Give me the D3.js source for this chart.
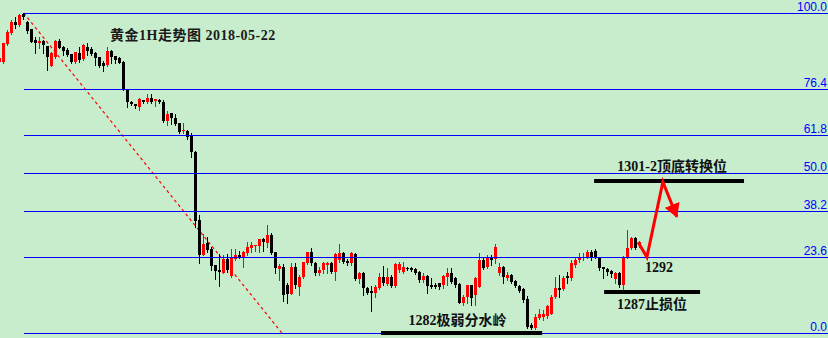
<!DOCTYPE html>
<html>
<head>
<meta charset="utf-8">
<title>黄金1H走势图</title>
<script src="https://d3js.org/d3.v7.min.js"></script>
<style>
  body { margin: 0; background: #c7edcc; }
  svg { display: block; }
  .lvl { font: 12px "Liberation Sans", Arial, sans-serif; fill: #0000ff; }
  .note { font: bold 14px "Liberation Serif", "Noto Sans CJK SC", serif; fill: #111; }
  .title { letter-spacing: 0.5px; fill: #1a1a1a; }
</style>
</head>
<body>
<div id="chart"></div>
<script>

// gold 1H candles (price units)
var opens = [1318.4,1318.4,1320.8,1322.3,1323.8,1323.4,1324.9,1323.8,1322.9,1321.4,
  1321.0,1321.2,1320.6,1317.9,1319.1,1321.2,1320.4,1320.0,1319.5,1318.4,
  1319.6,1318.8,1320.4,1320.2,1319.6,1319.1,1318.3,1318.0,1319.9,1319.2,
  1319.0,1318.4,1314.8,1313.0,1312.8,1312.4,1313.3,1313.0,1313.6,1313.2,
  1313.3,1313.0,1310.5,1311.6,1310.9,1310.2,1309.1,1309.1,1308.6,1306.3,
  1297.2,1292.5,1294.1,1293.3,1291.1,1290.5,1290.1,1291.9,1289.7,1291.9,
  1292.5,1292.2,1292.8,1293.4,1293.7,1293.7,1294.6,1294.1,1295.2,1292.9,
  1290.6,1290.9,1288.5,1287.2,1290.9,1288.2,1289.5,1291.4,1292.9,1291.4,
  1290.1,1290.5,1291.1,1291.4,1290.2,1291.8,1292.8,1291.7,1291.4,1292.6,
  1289.3,1290.1,1288.0,1287.6,1287.4,1288.0,1289.5,1288.6,1289.5,1288.3,
  1290.5,1290.2,1290.7,1290.7,1290.6,1290.2,1289.1,1289.7,1288.5,1288.5,
  1288.7,1288.5,1289.5,1290.1,1289.4,1288.6,1286.0,1286.8,1288.5,1287.1,
  1288.2,1291.8,1290.9,1292.2,1291.9,1290.1,1290.9,1289.4,1289.8,1289.0,
  1288.3,1287.9,1286.6,1283.1,1282.7,1284.0,1284.2,1284.3,1284.6,1286.8,
  1288.0,1287.9,1289.7,1289.4,1291.1,1291.8,1292.1,1292.2,1292.9,1293.0,
  1292.1,1290.9,1290.6,1290.3,1289.3,1290.1,1288.5,1292.1,1293.4,1294.8,
  1293.8];
var highs = [1319.2,1321.0,1322.7,1324.1,1324.5,1324.9,1325.0,1323.9,1322.9,1321.8,
  1321.8,1321.4,1320.6,1319.8,1321.4,1321.5,1320.6,1320.3,1319.5,1319.8,
  1320.4,1320.8,1321.0,1320.4,1319.8,1319.1,1318.6,1320.4,1320.0,1319.2,
  1319.1,1318.6,1314.8,1313.2,1312.8,1313.6,1313.3,1314.1,1314.1,1313.4,
  1313.4,1313.3,1311.8,1311.6,1311.4,1310.2,1310.2,1309.3,1308.9,1306.5,
  1297.9,1295.3,1294.9,1293.6,1291.1,1292.6,1292.5,1292.6,1293.3,1293.3,
  1293.0,1293.0,1294.2,1294.2,1293.8,1294.6,1294.8,1296.5,1295.4,1292.9,
  1291.3,1291.3,1288.7,1291.4,1291.4,1289.8,1291.5,1292.9,1293.4,1291.5,
  1290.9,1291.5,1291.5,1291.5,1292.8,1294.0,1292.9,1291.9,1292.9,1292.8,
  1290.2,1290.2,1288.2,1288.3,1288.5,1290.1,1291.0,1290.7,1289.8,1291.4,
  1291.5,1291.5,1290.9,1290.9,1290.7,1290.3,1290.1,1289.8,1289.4,1288.7,
  1288.7,1289.8,1290.7,1290.7,1289.5,1288.7,1287.1,1288.5,1288.5,1289.5,
  1292.8,1292.1,1292.5,1292.5,1294.0,1291.4,1291.0,1290.2,1289.9,1289.1,
  1288.5,1288.0,1287.0,1283.3,1284.6,1285.2,1285.1,1285.8,1287.1,1289.5,
  1289.8,1289.7,1290.2,1291.8,1292.2,1292.8,1292.8,1293.2,1293.2,1293.3,
  1292.2,1290.9,1290.7,1290.5,1290.2,1290.2,1292.3,1295.8,1294.9,1294.9,
  1294.4];
var lows = [1318.1,1318.3,1320.7,1322.2,1323.0,1323.3,1324.2,1322.3,1321.1,1319.6,
  1320.3,1319.6,1317.3,1317.9,1319.0,1320.3,1319.4,1319.2,1318.3,1318.3,
  1318.4,1318.7,1319.4,1319.4,1318.0,1317.7,1317.2,1317.9,1318.3,1318.3,
  1318.3,1314.7,1312.4,1312.6,1312.2,1312.0,1312.9,1312.9,1312.9,1312.5,
  1312.9,1310.4,1310.0,1310.1,1310.0,1308.9,1308.9,1308.1,1305.7,1296.2,
  1291.4,1292.5,1292.9,1290.5,1289.3,1288.3,1290.1,1290.2,1289.5,1291.8,
  1292.1,1290.9,1292.5,1292.9,1293.0,1292.9,1293.0,1293.6,1292.6,1290.1,
  1289.1,1286.3,1286.0,1287.2,1288.0,1287.1,1289.4,1291.3,1291.1,1289.8,
  1289.8,1290.1,1290.1,1290.1,1289.1,1291.5,1291.4,1291.1,1291.1,1289.1,
  1288.7,1287.1,1287.2,1285.0,1286.8,1287.9,1288.5,1288.5,1288.2,1288.2,
  1290.2,1290.1,1290.5,1290.3,1289.9,1288.9,1288.9,1287.4,1288.0,1288.0,
  1287.9,1288.0,1288.5,1288.7,1288.2,1286.0,1285.8,1286.0,1285.8,1285.8,
  1288.2,1290.6,1290.7,1291.1,1291.4,1289.8,1288.7,1289.1,1288.7,1288.2,
  1287.5,1286.2,1282.7,1282.5,1282.5,1283.9,1283.7,1284.0,1284.6,1286.7,
  1286.8,1287.8,1288.7,1289.1,1290.9,1291.5,1291.8,1292.1,1291.8,1292.1,
  1290.5,1289.4,1289.8,1289.5,1288.7,1288.2,1287.8,1292.1,1293.3,1293.3,
  1293.6];
var closes = [1319.0,1321.0,1322.4,1323.8,1323.4,1324.7,1324.5,1322.6,1321.1,1321.0,
  1321.2,1320.7,1319.1,1319.6,1321.2,1320.3,1319.9,1319.4,1318.4,1319.8,
  1318.7,1320.7,1319.9,1319.5,1319.0,1317.9,1317.9,1319.9,1319.1,1318.7,
  1318.3,1314.8,1313.0,1312.8,1312.5,1313.4,1313.0,1313.6,1313.0,1313.4,
  1313.0,1310.5,1311.4,1310.9,1310.1,1309.0,1309.3,1308.3,1306.3,1297.1,
  1292.5,1294.0,1293.2,1291.0,1290.3,1290.2,1291.9,1290.5,1292.2,1292.5,
  1292.2,1292.9,1293.6,1293.8,1293.8,1294.6,1294.2,1295.2,1292.8,1290.7,
  1291.0,1287.1,1287.2,1290.9,1288.5,1289.5,1291.5,1292.9,1291.4,1290.1,
  1290.5,1291.4,1291.4,1290.2,1292.6,1292.8,1291.5,1291.4,1292.8,1289.3,
  1290.1,1288.0,1287.4,1287.4,1288.2,1289.5,1288.7,1289.5,1288.3,1291.3,
  1291.3,1290.9,1290.6,1290.5,1290.1,1289.1,1289.7,1288.3,1288.2,1288.2,
  1288.2,1289.7,1290.1,1288.9,1288.5,1286.0,1286.8,1288.5,1286.7,1289.4,
  1291.8,1290.7,1292.2,1291.8,1293.6,1290.9,1289.5,1289.8,1288.9,1288.3,
  1287.6,1286.4,1282.8,1282.7,1284.2,1284.6,1284.6,1285.6,1286.8,1288.0,
  1287.8,1289.4,1289.4,1291.4,1291.8,1292.2,1292.2,1292.9,1292.1,1292.1,
  1290.7,1290.6,1290.2,1289.9,1290.1,1288.5,1292.2,1293.4,1294.8,1293.4,
  1294.2];

// fibonacci retracement
var levels = [0, 23.6, 38.2, 50, 61.8, 76.4, 100];
var fibLow = 1282.0, fibHigh = 1325.0;

// hand drawn things (candle index, price)
var trend = [[6, 1325.0], [70.6, 1282.0]];
var arrowPts = [[159.7, 1294.2], [161.9, 1292.2], [165.9, 1302.3], [169.4, 1297.6]];
var zoneLabels = ["1301-2顶底转换位", "1287止损位", "1282极弱分水岭"];
var zonePrices = [1302.4, 1287.5, 1282.0];
var zoneFrom = [148.7, 151.2, 95.4];
var zoneTo = [186.2, 175.2, 135.7];
var pivotLabel = "1292";
var title = "黄金1H走势图 2018-05-22";

var width = 828, height = 338;

var svg = d3.select("#chart").append("svg")
  .attr("width", width)
  .attr("height", height);

svg.append("rect")
  .attr("width", width)
  .attr("height", height)
  .attr("fill", "#c7edcc");

var x = d3.scaleLinear().domain([0, opens.length - 1]).range([-0.3, 639.3]);
var y = d3.scaleLinear().domain([fibLow, fibHigh]).range([333, 13]);

var candles = d3.range(opens.length).map(function(i){
  return { i: i, o: opens[i], h: highs[i], l: lows[i], c: closes[i] };
});
function col(d){ return d.c >= d.o ? "#ff0000" : "#000000"; }

// dotted trend line from the top
svg.append("line")
  .attr("x1", x(trend[0][0])).attr("y1", y(trend[0][1]))
  .attr("x2", x(trend[1][0])).attr("y2", y(trend[1][1]))
  .attr("stroke", "#ff0000")
  .attr("stroke-width", 1.2)
  .attr("stroke-dasharray", "3,3");

var cg = svg.append("g").attr("shape-rendering", "crispEdges");

cg.selectAll(".wick")
  .data(candles)
  .enter()
  .append("line")
  .attr("class", "wick")
  .attr("x1", function(d){ return Math.floor(x(d.i)) + 0.5; })
  .attr("x2", function(d){ return Math.floor(x(d.i)) + 0.5; })
  .attr("y1", function(d){ return Math.round(y(d.h)); })
  .attr("y2", function(d){ return Math.round(y(d.l)) + 1; })
  .attr("stroke", col);

cg.selectAll(".body")
  .data(candles)
  .enter()
  .append("rect")
  .attr("class", "body")
  .attr("x", function(d){ return Math.floor(x(d.i)) - 1; })
  .attr("width", 3)
  .attr("y", function(d){ return Math.round(y(Math.max(d.o, d.c))); })
  .attr("height", function(d){
    return Math.max(1, Math.round(y(Math.min(d.o, d.c))) - Math.round(y(Math.max(d.o, d.c))));
  })
  .attr("fill", col);

// fib lines start at the swing high
var hiIdx = d3.maxIndex(highs);
var fx = Math.round(x(hiIdx));

var lg = svg.append("g");
levels.forEach(function(lv){
  var py = Math.round(y(fibLow + lv / 100 * (fibHigh - fibLow)));
  lg.append("line")
    .attr("x1", fx).attr("x2", width)
    .attr("y1", py + 0.5).attr("y2", py + 0.5)
    .attr("stroke", "#0000ff")
    .attr("stroke-width", 1);
  lg.append("text")
    .attr("class", "lvl")
    .attr("x", width - 1)
    .attr("y", py - 2)
    .attr("text-anchor", "end")
    .text(lv.toFixed(1));
});

// support / resistance bars with notes
var shift = [[3, -10], [0, 17], [-4, -8]];
zoneLabels.forEach(function(lb, k){
  var x0 = x(zoneFrom[k]), x1 = x(zoneTo[k]), py = y(zonePrices[k]);
  svg.append("rect")
    .attr("x", x0).attr("width", x1 - x0)
    .attr("y", Math.round(py) - 2).attr("height", 4)
    .attr("fill", "#000");
  svg.append("text")
    .attr("class", "note")
    .attr("x", (x0 + x1) / 2 + shift[k][0])
    .attr("y", Math.round(py) + shift[k][1])
    .attr("text-anchor", "middle")
    .text(lb);
});

// red arrow
svg.append("defs").append("marker")
  .attr("id", "head")
  .attr("markerUnits", "userSpaceOnUse")
  .attr("markerWidth", 16).attr("markerHeight", 16)
  .attr("refX", 13).attr("refY", 8)
  .attr("orient", "auto")
  .append("path")
  .attr("d", "M0,0 L14,8 L0,16 Z")
  .attr("fill", "#ff0000");

svg.append("path")
  .attr("d", d3.line().x(function(d){ return x(d[0]); }).y(function(d){ return y(d[1]); })(arrowPts))
  .attr("fill", "none")
  .attr("stroke", "#ff0000")
  .attr("stroke-width", 3)
  .attr("stroke-linejoin", "miter")
  .attr("marker-end", "url(#head)");

svg.append("text")
  .attr("class", "note")
  .attr("x", x(arrowPts[1][0]) + 12)
  .attr("y", y(arrowPts[1][1]) + 15)
  .attr("text-anchor", "middle")
  .text(pivotLabel);

svg.append("text")
  .attr("class", "note title")
  .attr("x", 110)
  .attr("y", 40)
  .text(title);

</script>
</body>
</html>
